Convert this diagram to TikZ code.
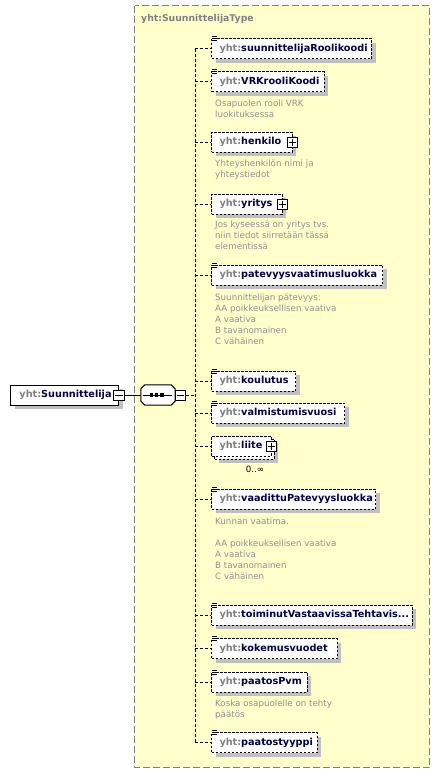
\documentclass[tikz,border=0pt]{standalone}
\usepackage{fontspec}
\usetikzlibrary{shadows}
\newfontfamily\dv{DejaVu Sans}
\definecolor{ybg}{HTML}{FFFFCC}
\definecolor{bordergray}{HTML}{808080}
\definecolor{pfxgray}{HTML}{808080}
\definecolor{nmnavy}{HTML}{000040}
\definecolor{docgray}{HTML}{909090}
\definecolor{shadowgray}{HTML}{C0C0C0}
\newcommand\pfx{\color{pfxgray}}
\newcommand\nmc{\color{nmnavy}}
\newcommand\elfont{\dv\bfseries\fontsize{9.7}{11}\selectfont}
\newcommand\docfont{\dv\fontsize{8.7}{11}\selectfont}
\newcommand\xel[5]{\node[#5,minimum width={#3-211},anchor=west] (#1) at (211,#2) {\makebox[\dimexpr#3pt-227pt\relax][l]{\pfx yht:\nmc #4}};}
\newcommand\simpleicon[1]{\foreach \k in {0,2.2,4.4}{\draw[iconline] ([shift={(1,-1.5+\k)}]#1.north west) -- ++(4.5,0);}}
\newcommand\plusat[2]{\node[pmbox] (#1) at (#2.east) {};
  \draw[pmline] ([xshift=2pt]#1.west) -- ([xshift=-2pt]#1.east);
  \draw[pmline] ([yshift=-2pt]#1.north) -- ([yshift=2pt]#1.south);}
\newcommand\docl[4]{\node[doctext] (#1) at (#2,#3) {#4};}
\newcommand\octpath[1]{([xshift=4pt]#1.north west) -- ([xshift=-4pt]#1.north east) -- ([yshift=-4pt]#1.north east) -- ([yshift=4pt]#1.south east) -- ([xshift=-4pt]#1.south east) -- ([xshift=4pt]#1.south west) -- ([yshift=4pt]#1.south west) -- ([yshift=-4pt]#1.north west) -- cycle}
\begin{document}
\begin{tikzpicture}[x=1pt,y=-1pt,
  typebox/.style={draw=bordergray,fill=ybg,line width=1pt,dash pattern=on 7pt off 3pt},
  titletext/.style={anchor=mid west,inner sep=0,font=\dv\bfseries\fontsize{9.3}{11}\selectfont,text=pfxgray},
  shad/.style={general shadow={fill=shadowgray,shadow xshift=4pt,shadow yshift=-4pt}},
  elbase/.style={draw=black,fill=white,line width=1pt,minimum height=20,inner xsep=8pt,inner ysep=0,font=\elfont},
  elbox/.style={elbase,shad,dash pattern=on 2.5pt off 1.5pt},
  elboxns/.style={elbase,dash pattern=on 2.5pt off 1.5pt},
  rootbox/.style={elbase,shad,inner xsep=9pt},
  pmbox/.style={draw=black,fill=white,line width=1pt,minimum width=10,minimum height=10,inner sep=0},
  pmline/.style={line width=1pt},
  iconline/.style={line width=0.9pt,black},
  seqframe/.style={draw=none,minimum width=34,minimum height=20,inner sep=0},
  conn/.style={line width=1pt,dash pattern=on 3pt off 2pt},
  doctext/.style={anchor=mid west,inner sep=0,font=\docfont,text=docgray}]
\useasboundingbox (0,0) rectangle (440,774);
\fill[white] (0,0) rectangle (440,774);
\draw[typebox] (134.5,5.5) rectangle (429.5,767.5);
\node[titletext] (title) at (141,19) {yht:SuunnittelijaType};
% root element and sequence
\node[rootbox,minimum width=108,anchor=west] (root) at (10,395) {\makebox[90pt][l]{\pfx yht:\nmc Suunnittelija}};
\node[pmbox,minimum width=11] (m0) at (root.east) {};
\draw[pmline] ([xshift=2pt]m0.west) -- ([xshift=-2pt]m0.east);
\node[seqframe] (seq) at (158,395) {};
\fill[shadowgray,shift={(4,4)}] \octpath{seq};
\draw[line width=1pt,fill=white] \octpath{seq};
\node[pmbox,anchor=west] (m1) at (seq.east) {};
\draw[pmline] ([xshift=2pt]m1.west) -- ([xshift=-2pt]m1.east);
\draw[line width=1pt] (m0.east) -- (seq.west);
\draw[line width=1pt] ([xshift=2.5pt]seq.west) -- ([xshift=-3pt]seq.east);
\foreach \sx in {151.5,156.7,161.9}{\fill (\sx-1.6,393.4) rectangle (\sx+1.6,396.6);}
\coordinate (spine) at (195,395);
\draw[conn] (m1.east) -- (spine);
% elements
\xel{e1}{48.5}{371}{suunnittelijaRoolikoodi}{elbox}
\xel{e2}{81.5}{323.5}{VRKrooliKoodi}{elbox}
\xel{e3}{142}{291.5}{henkilo}{elbox}
\xel{e4}{204}{281.5}{yritys}{elbox}
\xel{e5}{275}{382}{patevyysvaatimusluokka}{elbox}
\xel{e6}{381}{295}{koulutus}{elbox}
\xel{e7}{413}{344}{valmistumisvuosi}{elbox}
\node[elbox,minimum width=59.5,anchor=west] (e8b) at (214,449) {};
\xel{e8}{446}{270.5}{liite}{elboxns}
\xel{e9}{499}{375}{vaadittuPatevyysluokka}{elbox}
\xel{e10}{615}{411.5}{toiminutVastaavissaTehtavis...}{elbox}
\xel{e11}{648.5}{336.5}{kokemusvuodet}{elbox}
\xel{e12}{682}{306.5}{paatosPvm}{elbox}
\xel{e13}{742.5}{316.5}{paatostyyppi}{elbox}
\foreach \i in {1,2,5,6,7,9,10,11,12,13}{\simpleicon{e\i}}
\plusat{p3}{e3}
\plusat{p4}{e4}
\plusat{p8}{e8}
\node[inner sep=0,anchor=mid,font=\docfont] (occ8) at (255,470) {0..∞};
% connectors
\draw[conn] (spine |- e1.west) -- (spine |- e13.west);
\foreach \i in {1,...,13}{\draw[conn] (spine |- e\i.west) -- (e\i.west);}
% documentation
\docl{d2a}{215}{104}{Osapuolen rooli VRK}
\docl{d2b}{215}{115}{luokituksessa}
\docl{d3a}{215}{164.7}{Yhteyshenkilön nimi ja}
\docl{d3b}{215}{175.7}{yhteystiedot}
\docl{d4a}{215}{225.3}{Jos kyseessä on yritys tvs.}
\docl{d4b}{215}{236.7}{niin tiedot siirretään tässä}
\docl{d4c}{215}{247.7}{elementissä}
\docl{d5a}{215}{298.3}{Suunnittelijan pätevyys:}
\docl{d5b}{215}{309}{AA poikkeuksellisen vaativa}
\docl{d5c}{215}{320}{A vaativa}
\docl{d5d}{215}{331}{B tavanomainen}
\docl{d5e}{215}{342}{C vähäinen}
\docl{d9a}{215}{522.5}{Kunnan vaatima.}
\docl{d9b}{215}{544}{AA poikkeuksellisen vaativa}
\docl{d9c}{215}{555}{A vaativa}
\docl{d9d}{215}{566}{B tavanomainen}
\docl{d9e}{215}{577}{C vähäinen}
\docl{d12a}{215}{704.3}{Koska osapuolelle on tehty}
\docl{d12b}{215}{715.3}{päätös}
\end{tikzpicture}
\end{document}
